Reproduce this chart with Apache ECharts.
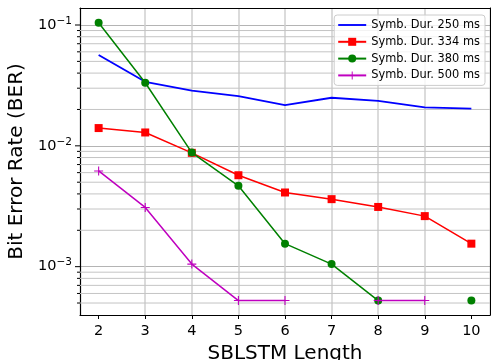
<!DOCTYPE html>
<html><head><meta charset="utf-8">
<script src="https://cdn.jsdelivr.net/npm/echarts@6/dist/echarts.min.js"></script>
<style>html,body{margin:0;padding:0;background:#fff}#c{width:491px;height:360px}</style>
</head><body><div id="c"></div>
<script>
const lengths = [2, 3, 4, 5, 6, 7, 8, 9, 10];
const ber250 = [0.0564, 0.0339, 0.0286, 0.0258, 0.0217, 0.0250, 0.0236, 0.0208, 0.0203];
const ber334 = [0.01403, 0.0129, 0.00875, 0.00571, 0.00411, 0.00362, 0.00312, 0.00262, 0.00155];
const ber380 = [0.1045, 0.0333, 0.0088, 0.00467, 0.00155, 0.00105, 0.000524, null, 0.000524];
const ber500 = [0.0062, 0.00309, 0.00105, 0.000524, 0.000524, null, 0.000524, 0.000524, null];
const seriesNames = ['Symb. Dur. 250 ms', 'Symb. Dur. 334 ms', 'Symb. Dur. 380 ms', 'Symb. Dur. 500 ms'];
const xTickValues = [2, 3, 4, 5, 6, 7, 8, 9, 10];
const yMajorTicks = [0.001, 0.01, 0.1];
const yMinorTicks = [0.0005, 0.0006, 0.0007, 0.0008, 0.0009,
  0.002, 0.003, 0.004, 0.005, 0.006, 0.007, 0.008, 0.009,
  0.02, 0.03, 0.04, 0.05, 0.06, 0.07, 0.08, 0.09];

const X_MIN = 1.6, X_MAX = 10.4;
const font = 'DejaVu Sans';
function pairs(ys) { return lengths.map((x, i) => [x, ys[i] == null ? '-' : ys[i]]); }
const tickData = yMinorTicks.map(v => [X_MIN, v, 0]).concat(yMajorTicks.map(v => [X_MIN, v, 1]));
const plusPath = 'path://M4.4,0h1.2v4.4h4.4v1.2h-4.4v4.4h-1.2v-4.4h-4.4v-1.2h4.4z';
const lineIcon = 'path://M0,0h30v2h-30z';

const chart = echarts.init(document.getElementById('c'), null, {renderer: 'canvas', width: 491, height: 360});
chart.setOption({
  animation: false,
  grid: {left: 80, right: 1, top: 8, bottom: 45, containLabel: false, outerBoundsMode: 'none'},
  xAxis: [{
    type: 'value', min: X_MIN, max: X_MAX,
    name: 'SBLSTM Length', nameLocation: 'middle', nameGap: 29,
    nameTextStyle: {fontFamily: font, fontSize: 20, color: '#000'},
    axisLine: {show: true, onZero: false, lineStyle: {color: '#000', width: 1.2}},
    axisTick: {show: true, customValues: xTickValues, length: 4, lineStyle: {color: '#000', width: 1}},
    axisLabel: {customValues: xTickValues, fontFamily: font, fontSize: 14.5, color: '#000', margin: 9},
    splitLine: {show: true, showMinLine: false, showMaxLine: false, lineStyle: {color: '#cfcfcf', width: 1.5}}
  }, {
    type: 'value', position: 'top', min: 0, max: 1,
    axisLine: {show: true, onZero: false, lineStyle: {color: '#000', width: 1.2}},
    axisTick: {show: false}, axisLabel: {show: false}, splitLine: {show: false}
  }],
  yAxis: [{
    type: 'log', logBase: 10, min: 3.98e-4, max: 0.1383,
    name: 'Bit Error Rate (BER)', nameLocation: 'middle', nameGap: 49,
    nameTextStyle: {fontFamily: font, fontSize: 20, color: '#000'},
    axisLine: {show: true, onZero: false, lineStyle: {color: '#000', width: 1.2}},
    axisTick: {show: false},
    axisLabel: {
      margin: 8,
      formatter: function (v) {
        const e = Math.log10(v), r = Math.round(e);
        if (Math.abs(e - r) > 1e-6) return '';
        return '{b|10}{s|' + (r < 0 ? '\u2212' : '') + Math.abs(r) + '}';
      },
      rich: {
        b: {fontFamily: font, fontSize: 14.5, color: '#000'},
        s: {fontFamily: font, fontSize: 10.5, color: '#000', padding: [0, 0, 8, 0]}
      }
    },
    splitLine: {show: true, showMinLine: false, showMaxLine: false, lineStyle: {color: '#b4b4b4', width: 1}}
  }, {
    type: 'value', position: 'right', min: 0, max: 1,
    axisLine: {show: true, onZero: false, lineStyle: {color: '#000', width: 1.2}},
    axisTick: {show: false}, axisLabel: {show: false}, splitLine: {show: false}
  }],
  legend: {
    data: [{name: seriesNames[0], icon: lineIcon}, seriesNames[1], seriesNames[2], seriesNames[3]],
    orient: 'vertical', align: 'left', right: 6, top: 15,
    itemWidth: 28, itemHeight: 10, itemGap: 4.8, padding: [4, 5, 4, 3],
    backgroundColor: 'rgba(255,255,255,0.8)', borderColor: '#cccccc', borderWidth: 1, borderRadius: 3,
    textStyle: {fontFamily: font, fontSize: 11.4, color: '#000', lineHeight: 12}
  },
  series: [{
    type: 'custom', name: 'yticks', silent: true, clip: false, z: 1,
    xAxisIndex: 0, yAxisIndex: 0,
    data: tickData, encode: {x: 0, y: 1},
    renderItem: function (params, api) {
      const v = api.value(1), major = api.value(2);
      const p0 = api.coord([X_MIN, v]), p1 = api.coord([X_MAX, v]);
      const children = [{type: 'line', shape: {x1: p0[0] - (major ? 5 : 3), y1: p0[1], x2: p0[0], y2: p0[1]},
        style: {stroke: '#000', lineWidth: 1}}];
      if (!major) children.push({type: 'line', shape: {x1: p0[0], y1: p0[1], x2: p1[0], y2: p1[1]},
        style: {stroke: '#c4c4c4', lineWidth: 1}});
      return {type: 'group', children: children};
    }
  }, {
    name: seriesNames[0], type: 'line', data: pairs(ber250), symbol: 'none', z: 3,
    lineStyle: {color: '#0000ff', width: 1.8}, itemStyle: {color: '#0000ff'}
  }, {
    name: seriesNames[1], type: 'line', data: pairs(ber334), symbol: 'rect', symbolSize: 8, z: 4,
    lineStyle: {color: '#ff0000', width: 1.5}, itemStyle: {color: '#ff0000'}
  }, {
    name: seriesNames[2], type: 'line', data: pairs(ber380), symbol: 'circle', symbolSize: 8, z: 5,
    lineStyle: {color: '#008000', width: 1.5}, itemStyle: {color: '#008000'}
  }, {
    name: seriesNames[3], type: 'line', data: pairs(ber500), symbol: plusPath, symbolSize: 9, z: 6,
    lineStyle: {color: '#bf00bf', width: 1.5}, itemStyle: {color: '#bf00bf'}
  }]
});
</script></body></html>
